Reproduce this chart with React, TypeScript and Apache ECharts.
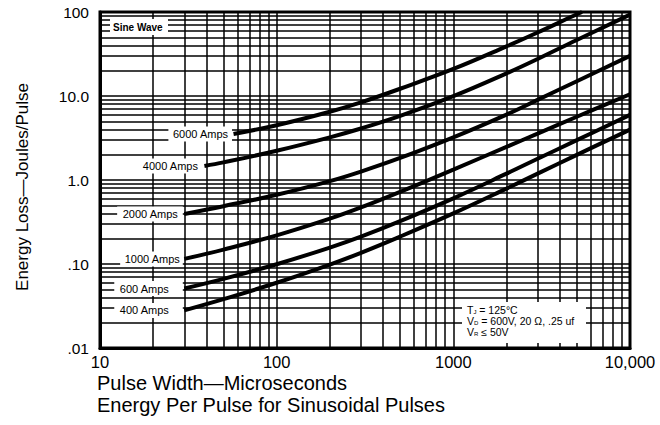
import React, { useEffect, useRef } from "react";
import * as echarts from "echarts";

// ---- data (log-log) ----
const pulseWidth = [30, 50, 100, 200, 300, 500, 1000, 2000, 3000, 5000, 10000];
const loss400 = [0.028, 0.0381, 0.0598, 0.0985, 0.136, 0.212, 0.4, 0.79, 1.19, 1.99, 3.98];
const loss600 = [0.051, 0.0665, 0.0994, 0.157, 0.212, 0.324, 0.605, 1.19, 1.79, 2.98, 5.96];
const loss1000 = [0.115, 0.1485, 0.219, 0.346, 0.471, 0.723, 1.33, 2.48, 3.57, 5.66, 10.5];
const loss2000 = [0.394, 0.488, 0.667, 0.97, 1.26, 1.83, 3.22, 6.01, 9.0, 15.0, 30.0];
const pulseWidth4000 = [39, 50, 100, 200, 300, 500, 1000, 2000, 3000, 5000, 10000];
const loss4000 = [1.47, 1.62, 2.23, 3.22, 4.1, 5.8, 9.96, 18.6, 27.6, 46.5, 93];
const pulseWidth6000 = [57, 100, 200, 300, 500, 1000, 2000, 3000, 5000, 5350];
const loss6000 = [3.53, 4.49, 6.5, 8.4, 12.2, 21, 39, 57, 94, 100];

const seriesNames = ["400 Amps", "600 Amps", "1000 Amps", "2000 Amps", "4000 Amps", "6000 Amps"];

const xTickValues = [10, 100, 1000, 10000];
const xTickLabels = ["10", "100", "1000", "10,000"];
const yTickValues = [0.01, 0.1, 1, 10, 100];
const yTickLabels = [".01", ".10", "1.0", "10.0", "100"];

const xDecades = [10, 100, 1000];
const yDecades = [0.01, 0.1, 1, 10];
const gridMultipliers = [2, 3, 4, 5, 6, 7, 8, 9];

const FONT = "'Liberation Sans', Arial, Helvetica, sans-serif";

export default function App() {
  const ref = useRef<HTMLDivElement>(null);

  useEffect(() => {
    document.body.style.margin = "0";
    if (!ref.current) return;
    const chart = echarts.init(ref.current, undefined, { renderer: "svg" });

    const labelPads: Record<string, number[]> = {
      "400 Amps": [2, 14, 2, 5],
      "600 Amps": [2, 14, 2, 5],
      "1000 Amps": [2, 3, 2, 4],
      "2000 Amps": [2, 5, 2, 5],
      "4000 Amps": [2, 5, 2, 3],
      "6000 Amps": [2, 4, 2, 4],
    };

    const makeSeries = (name: string, xs: number[], ys: number[]) => ({
      type: "line",
      name,
      z: 5,
      smooth: 0.4,
      symbol: "circle",
      symbolSize: 1,
      showSymbol: true,
      showAllSymbol: true,
      itemStyle: { color: "rgba(0,0,0,0)" },
      lineStyle: { color: "#000", width: 4 },
      emphasis: { disabled: true },
      data: xs.map((x, i) =>
        i === 0
          ? {
              value: [x, ys[i]],
              label: {
                show: true,
                position: "left",
                distance: 1,
                formatter: name,
                fontSize: 11,
                fontFamily: FONT,
                color: "#000",
                backgroundColor: "#fff",
                padding: labelPads[name],
              },
            }
          : { value: [x, ys[i]] }
      ),
    });

    const xMinor: number[] = [];
    xDecades.forEach((d) => gridMultipliers.forEach((m) => xMinor.push(d * m)));
    const yMinor: number[] = [];
    yDecades.forEach((d) => gridMultipliers.forEach((m) => yMinor.push(d * m)));

    const gridSeries = {
      type: "line",
      name: "grid",
      z: 1,
      data: [],
      silent: true,
      markLine: {
        silent: true,
        symbol: ["none", "none"],
        label: { show: false },
        emphasis: { disabled: true },
        lineStyle: { color: "#000", width: 1.5, type: "solid" },
        data: [...xMinor.map((v) => ({ xAxis: v })), ...yMinor.map((v) => ({ yAxis: v }))],
      },
    };

    chart.setOption({
      animation: false,
      backgroundColor: "#fff",
      grid: {
        left: 100,
        right: 30,
        top: 12,
        bottom: 77,
        show: true,
        borderColor: "#000",
        borderWidth: 3,
      },
      xAxis: {
        type: "log",
        logBase: 10,
        min: 10,
        max: 10000,
        axisLine: { show: true, lineStyle: { color: "#000", width: 3 } },
        axisTick: { show: false },
        splitLine: { show: true, lineStyle: { color: "#000", width: 1.5 } },
        axisLabel: {
          margin: 5,
          fontSize: 16.5,
          fontFamily: FONT,
          color: "#000",
          formatter: (v: number) => {
            const i = xTickValues.findIndex((t) => Math.abs(t - v) / t < 1e-6);
            return i >= 0 ? xTickLabels[i] : "";
          },
        },
      },
      yAxis: {
        type: "log",
        logBase: 10,
        min: 0.01,
        max: 100,
        axisLine: { show: true, lineStyle: { color: "#000", width: 3 } },
        axisTick: { show: false },
        splitLine: { show: true, lineStyle: { color: "#000", width: 1.5 } },
        axisLabel: {
          margin: 11,
          fontSize: 15.5,
          fontFamily: FONT,
          color: "#000",
          formatter: (v: number) => {
            const i = yTickValues.findIndex((t) => Math.abs(t - v) / t < 1e-6);
            return i >= 0 ? yTickLabels[i] : "";
          },
        },
      },
      graphic: [
        { type: "rect", z: 100, shape: { x: 110, y: 19, width: 58, height: 16 }, style: { fill: "#fff" } },
        {
          type: "text",
          z: 101,
          x: 113,
          y: 27.5,
          style: { text: "Sine Wave", fontSize: 10, fontWeight: "bold", fontFamily: FONT, fill: "#000", verticalAlign: "middle" },
        },
        { type: "rect", z: 100, shape: { x: 462, y: 302, width: 124, height: 41 }, style: { fill: "#fff" } },
        {
          type: "text",
          z: 101,
          x: 467,
          y: 304,
          style: {
            text: "{n|T}{s|J}{n| = 125°C}\n{n|V}{s|D}{n| = 600V, 20 Ω, .25 uf}\n{n|V}{s|R}{n| ≤ 50V}",
            fontFamily: FONT,
            fill: "#000",
            rich: {
              n: { fontSize: 10.5, fontFamily: FONT, color: "#000", lineHeight: 11, verticalAlign: "bottom" },
              s: { fontSize: 6, fontFamily: FONT, color: "#000", lineHeight: 11, verticalAlign: "bottom" },
            },
          },
        },
        {
          type: "text",
          z: 101,
          x: 22,
          y: 187,
          rotation: Math.PI / 2,
          style: {
            text: "Energy Loss—Joules/Pulse",
            fontSize: 17,
            fontFamily: FONT,
            fill: "#000",
            align: "center",
            verticalAlign: "middle",
          },
        },
        {
          type: "text",
          z: 101,
          x: 97,
          y: 383,
          style: { text: "Pulse Width—Microseconds", fontSize: 20, fontFamily: FONT, fill: "#000", verticalAlign: "middle" },
        },
        {
          type: "text",
          z: 101,
          x: 97,
          y: 405,
          style: {
            text: "Energy Per Pulse for Sinusoidal Pulses",
            fontSize: 20,
            fontFamily: FONT,
            fill: "#000",
            verticalAlign: "middle",
          },
        },
      ],
      series: [
        gridSeries,
        makeSeries(seriesNames[0], pulseWidth, loss400),
        makeSeries(seriesNames[1], pulseWidth, loss600),
        makeSeries(seriesNames[2], pulseWidth, loss1000),
        makeSeries(seriesNames[3], pulseWidth, loss2000),
        makeSeries(seriesNames[4], pulseWidth4000, loss4000),
        makeSeries(seriesNames[5], pulseWidth6000, loss6000),
      ],
    });

    return () => chart.dispose();
  }, []);

  return <div ref={ref} style={{ width: 660, height: 425 }} />;
}
